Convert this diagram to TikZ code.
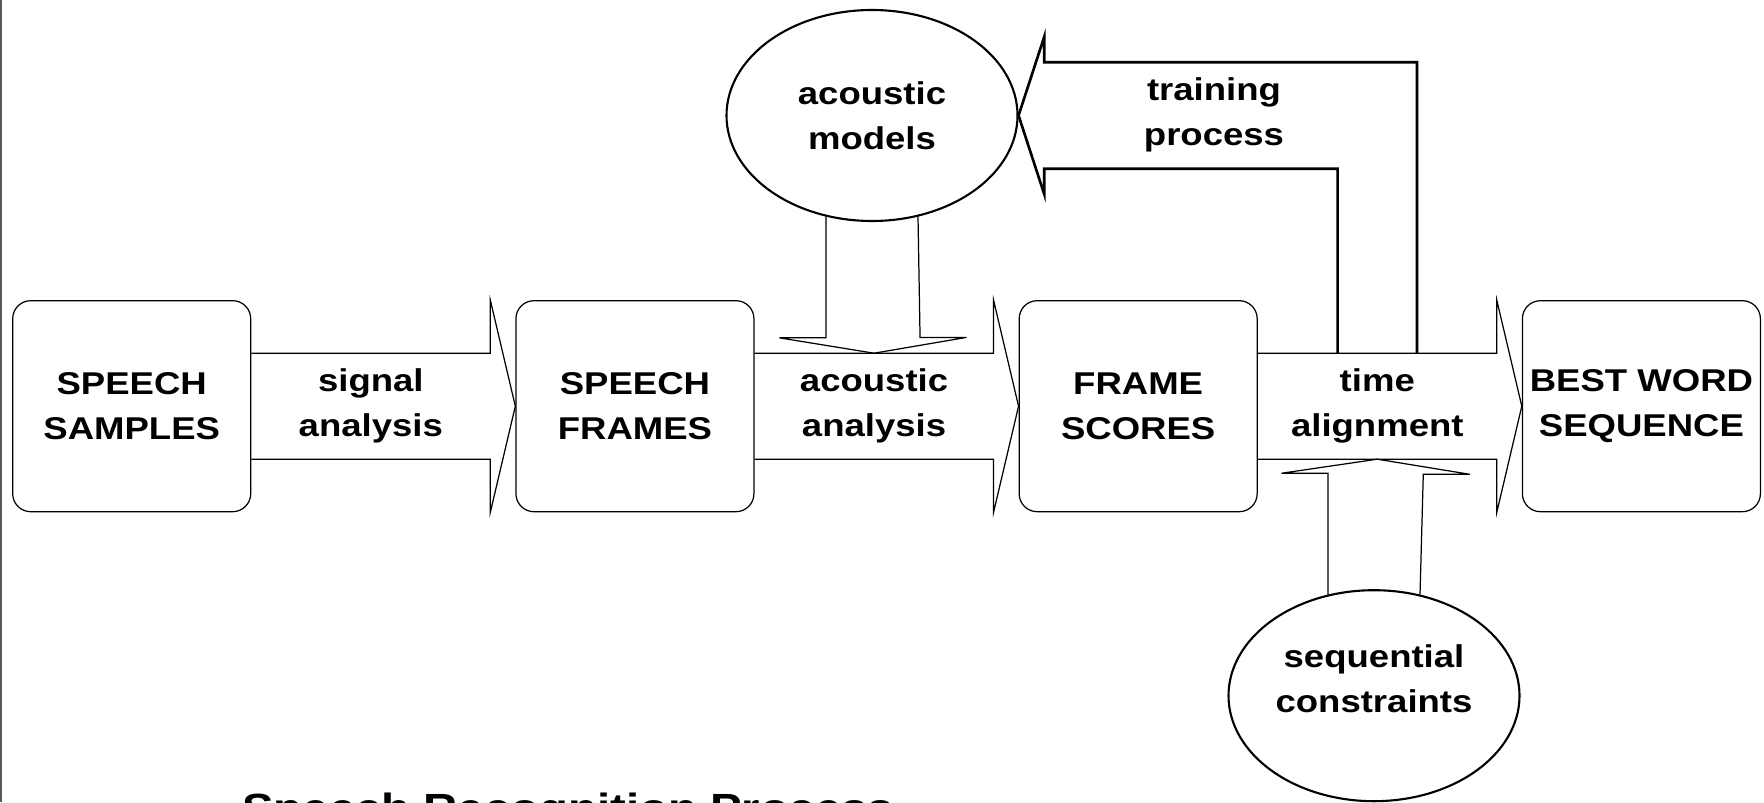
\documentclass[tikz,border=0pt]{standalone}
\usepackage{fontspec}
\setmainfont{Liberation Sans}[FakeStretch=1.16]
\usepackage{tikz}
\usetikzlibrary{calc,positioning,shapes.geometric}
\newcommand{\stagefont}{\fontsize{8.96}{12.8}\selectfont\bfseries}
\newcommand{\titlefont}{\fontsize{11.6}{14}\selectfont\bfseries}
\tikzset{
  stagebox/.style={rectangle,rounded corners=1.8mm,draw,line width=0.35pt,
    minimum width=2.38cm,minimum height=2.11cm,inner sep=0pt,align=center,font=\stagefont},
  source/.style={ellipse,draw,line width=0.6pt,minimum width=2.91cm,minimum height=2.11cm,
    inner sep=0pt,align=center,font=\stagefont},
  steplabel/.style={align=center,inner sep=0pt,font=\stagefont},
  outline/.style={line width=0.35pt,line join=miter},
  trainline/.style={line width=0.75pt,line join=miter}
}
% wide block arrow from the right side of #1 to the left side of #2
\newcommand{\stagearrow}[2]{%
  \draw[outline] ($(#1.east)+(0,0.53)$) -- ($(#2.west)+(-0.25,0.53)$)
    -- ($(#2.north west)+(-0.25,0)$) -- (#2.west) -- ($(#2.south west)+(-0.25,0)$)
    -- ($(#2.west)+(-0.25,-0.53)$) -- ($(#1.east)+(0,-0.53)$);}

\begin{document}
\begin{tikzpicture}
\useasboundingbox (0,0) rectangle (17.64,8.02);
\fill[white] (0,0) rectangle (17.64,8.02);
\draw[black!65,line width=0.4pt] (0.01,0) -- (0.01,8.02);

\node[stagebox] (samples) at (1.317,3.958) {SPEECH\\SAMPLES};
\node[stagebox,right=2.64cm of samples] (frames) {SPEECH\\FRAMES};
\node[stagebox,right=2.64cm of frames] (scores) {FRAME\\SCORES};
\node[stagebox,right=2.64cm of scores] (words) {BEST WORD\\SEQUENCE};

\stagearrow{samples}{frames}
\stagearrow{frames}{scores}
\stagearrow{scores}{words}

\node[steplabel] (signal) at ($(samples.east)!0.5!(frames.west)+(-0.125,0)$) {signal\\analysis};
\node[steplabel] (acoustic) at ($(frames.east)!0.5!(scores.west)+(-0.125,0)$) {acoustic\\analysis};
\node[steplabel] (align) at ($(scores.east)!0.5!(words.west)+(-0.125,0)$) {time\\alignment};

\node[source] (models) at (8.72,6.865) {acoustic\\models};
\node[source] (constraints) at (13.74,1.063) {};
\node[steplabel] (constraintstext) at ($(constraints)+(0,0.17)$) {sequential\\constraints};

% models feed the acoustic analysis
\coordinate (mtip) at ($(acoustic)+(0,0.53)$);
\draw[outline] ($(models.south)+(-0.46,0.055)$) -- ++(0,-1.213) -- ++(-0.465,0) -- (mtip)
  -- ($(mtip)+(0.925,0.158)$) -- ++(-0.465,0) -- ($(models.south)+(0.46,0.055)$);

% constraints feed the time alignment
\coordinate (ctip) at ($(align)+(0,-0.53)$);
\draw[outline] ($(constraints.north)+(-0.46,-0.055)$) -- ++(0,1.214) -- ++(-0.465,0) -- (ctip)
  -- ($(ctip)+(0.925,-0.151)$) -- ++(-0.465,0) -- ($(constraints.north)+(0.46,-0.055)$);

% training loop back to the models
\coordinate (tin) at ($(align)+(-0.397,0.53)$);
\coordinate (tout) at ($(align)+(0.397,0.53)$);
\draw[trainline] (tin) |- ($(models.east)+(0.257,-0.533)$) -- ++(0,-0.255) -- (models.east)
  -- ++(0.257,0.788) -- ++(0,-0.255) -| (tout);
\node[steplabel] (training) at (12.14,6.87) {training\\process};

\node[anchor=base west,inner sep=0pt,font=\titlefont] (title) at (2.417,-0.20) {Speech Recognition Process};
\end{tikzpicture}
\end{document}
